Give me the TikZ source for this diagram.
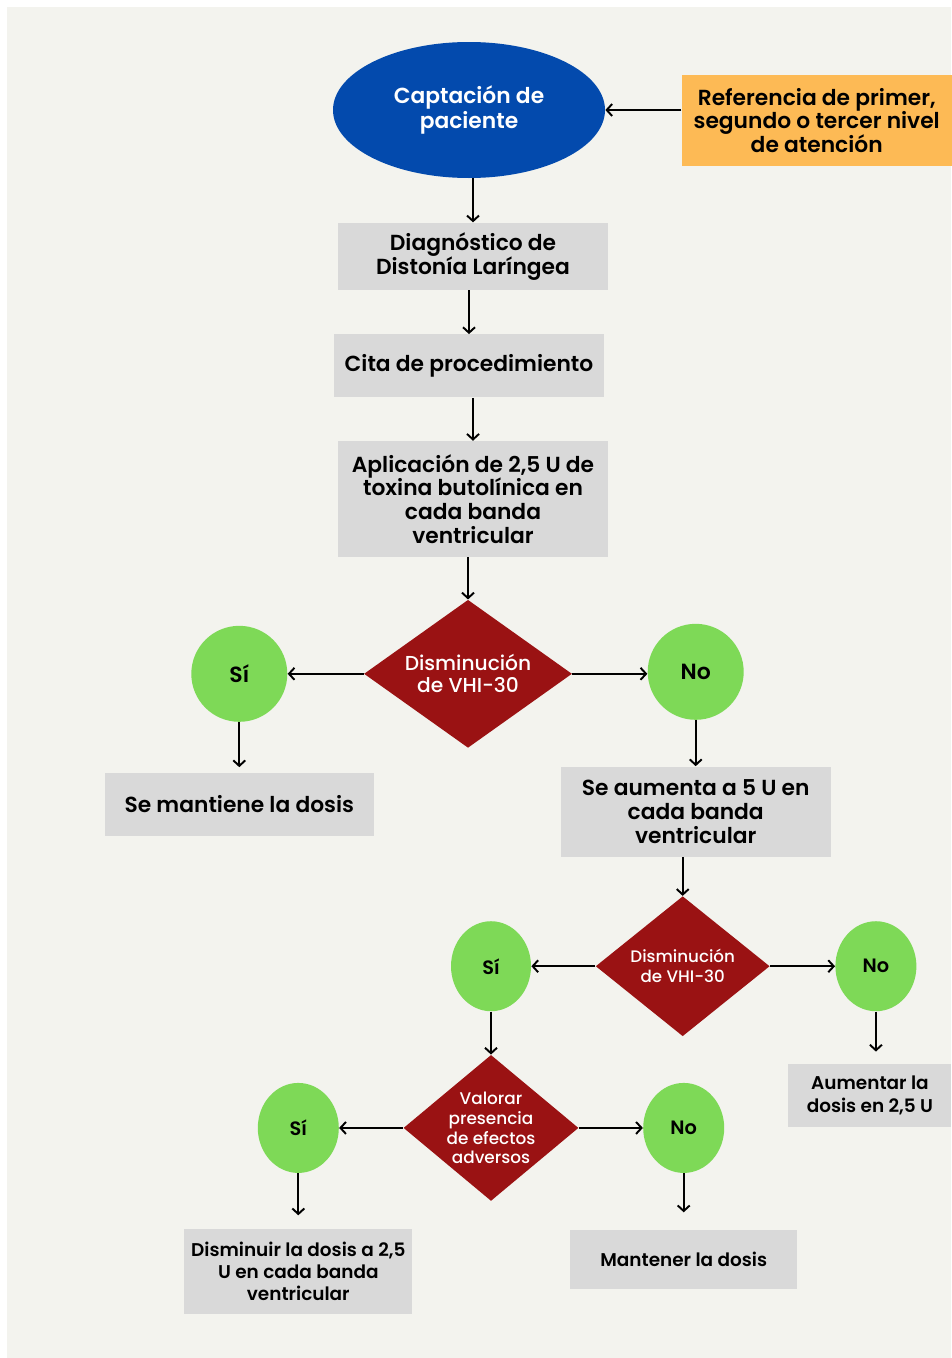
\documentclass[tikz,border=0pt]{standalone}
\usepackage{xcolor}
\usepackage{fontspec}
\usepackage{tikz}
\usetikzlibrary{shapes.geometric,positioning,arrows.meta}
\setmainfont{Poppins}[UprightFont=* Medium, BoldFont=* SemiBold]

\definecolor{fondo}{HTML}{F3F3EE}
\definecolor{azul}{HTML}{034AAD}
\definecolor{naranja}{HTML}{FDBA55}
\definecolor{gris}{HTML}{D9D9D9}
\definecolor{rojo}{HTML}{9A1213}
\definecolor{verde}{HTML}{7ED957}

\begin{document}
\begin{tikzpicture}[
	box/.style = {fill=gris, minimum width=5.4cm, align=center, inner sep=0pt, font=\bfseries\fontsize{12.4}{13.6}\selectfont},
	dec/.style = {diamond, fill=rojo, text=white, align=center, inner sep=-8pt, aspect=1.3},
	ans/.style = {ellipse, fill=verde, inner sep=0pt},
	arr/.style = {line width=1.1pt, -{Straight Barb[length=1.1mm,width=2.4mm]}}]
	% fondo
	\useasboundingbox (0,0) rectangle (19.02,-27.16);
	\fill[fondo] (0.14,-0.14) rectangle (19.02,-27.16);
	% inicio
	\node[ellipse, fill=azul, text=white, minimum width=5.44cm, minimum height=2.72cm, align=center, font=\bfseries\fontsize{12.4}{14}\selectfont] (capt) at (9.38,-2.20) {Captación de\\paciente};
	\node[fill=naranja, minimum width=5.4cm, minimum height=1.82cm, align=center, inner sep=0pt, font=\bfseries\fontsize{12.4}{13.6}\selectfont] [right=1.52cm of capt, yshift=-0.21cm] (ref) {Referencia de primer,\\segundo o tercer nivel\\de atención};
	\node[box, minimum height=1.34cm] [below=0.88cm of capt, xshift=0.08cm] (diag) {Diagnóstico de\\Distonía Laríngea};
	\node[box, minimum height=1.26cm] [below=0.88cm of diag, xshift=-0.08cm] (cita) {Cita de procedimiento};
	\node[box, minimum height=2.32cm] [below=0.86cm of cita, xshift=0.08cm] (aplic) {Aplicación de 2,5 U de\\toxina butolínica en\\cada banda\\ventricular};
	% primera decision
	\node[dec, minimum width=4.16cm, minimum height=2.96cm, font=\fontsize{11.5}{12.5}\selectfont] [below=0.84cm of aplic, xshift=-0.10cm] (dec1) {Disminución\\de VHI-30};
	\node[ans, minimum width=1.92cm, minimum height=1.92cm, font=\bfseries\fontsize{12.5}{13}\selectfont] [left=1.52cm of dec1] (si1) {Sí};
	\node[ans, minimum width=1.92cm, minimum height=1.92cm, font=\bfseries\fontsize{12.5}{13}\selectfont] [right=1.5cm of dec1, yshift=0.04cm] (no1) {No};
	\node[box, minimum width=5.38cm, minimum height=1.26cm] [below=1.0cm of si1] (mant1) {Se mantiene la dosis};
	\node[box, minimum height=1.8cm] [below=0.92cm of no1] (aum5) {Se aumenta a 5 U en\\cada banda\\ventricular};
	% segunda decision
	\node[dec, minimum width=3.48cm, minimum height=2.8cm, font=\fontsize{9.5}{11.3}\selectfont] [below=0.78cm of aum5, xshift=-0.26cm] (dec2) {Disminución\\de VHI-30};
	\node[ans, minimum width=1.6cm, minimum height=1.8cm, font=\bfseries\fontsize{11}{12}\selectfont] [left=1.28cm of dec2] (si2) {Sí};
	\node[ans, minimum width=1.62cm, minimum height=1.8cm, font=\bfseries\fontsize{11}{12}\selectfont] [right=1.3cm of dec2] (no2) {No};
	\node[box, minimum width=3.26cm, minimum height=1.26cm, font=\bfseries\fontsize{10.5}{12.6}\selectfont] [below=1.04cm of no2, xshift=-0.12cm] (aum25) {Aumentar la\\dosis en 2,5 U};
	% tercera decision
	\node[dec, minimum width=3.5cm, minimum height=2.92cm, font=\fontsize{9.6}{11.3}\selectfont] [below=0.86cm of si2] (dec3) {Valorar\\presencia\\de efectos\\adversos};
	\node[ans, minimum width=1.62cm, minimum height=1.8cm, font=\bfseries\fontsize{11}{12}\selectfont] [left=1.28cm of dec3] (si3) {Sí};
	\node[ans, minimum width=1.62cm, minimum height=1.8cm, font=\bfseries\fontsize{11}{12}\selectfont] [right=1.28cm of dec3] (no3) {No};
	\node[box, minimum width=4.56cm, minimum height=1.7cm, font=\bfseries\fontsize{10.5}{12.6}\selectfont] [below=1.1cm of si3] (dism) {Disminuir la dosis a 2,5\\U en cada banda\\ventricular};
	\node[box, minimum width=4.54cm, minimum height=1.18cm, font=\bfseries\fontsize{10.5}{12.6}\selectfont] [below=1.12cm of no3] (mant3) {Mantener la dosis};
	% flechas
	\draw[arr] (ref.west |- capt.east) -- (capt.east);
	\draw[arr] (capt.south -| diag.north) -- (diag.north);
	\draw[arr] (diag.south -| cita.north) -- (cita.north);
	\draw[arr] (cita.south -| aplic.north) -- (aplic.north);
	\draw[arr] (aplic.south -| dec1.north) -- (dec1.north);
	\draw[arr] (dec1.west) -- (si1.east);
	\draw[arr] (dec1.east) -- (dec1.east -| no1.west);
	\draw[arr, shorten >=0.1cm] (si1) -- (mant1);
	\draw[arr] (no1) -- (aum5);
	\draw[arr] (aum5.south -| dec2.north) -- (dec2.north);
	\draw[arr] (dec2.west) -- (si2.east);
	\draw[arr] (dec2.east) -- (no2.west);
	\draw[arr, shorten >=0.24cm] (no2.south) -- (no2.south |- aum25.north);
	\draw[arr] (si2) -- (dec3);
	\draw[arr] (dec3.west) -- (si3.east);
	\draw[arr] (dec3.east) -- (no3.west);
	\draw[arr, shorten >=0.26cm] (si3) -- (dism);
	\draw[arr, shorten >=0.34cm] (no3.south) -- (no3.south |- mant3.north);
\end{tikzpicture}
\end{document}
